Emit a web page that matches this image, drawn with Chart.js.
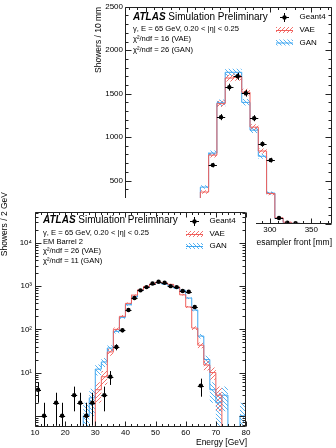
<!DOCTYPE html>
<html lang="en">
<head>
<meta charset="UTF-8">
<title>Geant4 vs VAE vs GAN</title>
<script src="https://cdn.jsdelivr.net/npm/chart.js"></script>
<style>
  html, body { margin: 0; padding: 0; background: #fff; }
  #wrap { position: relative; width: 336px; height: 448px; overflow: hidden; }
  #topBox { position: absolute; left: 0; top: 0; width: 336px; height: 260px; }
  #botBox { position: absolute; left: 0; top: 186px; width: 256px; height: 262px; }
</style>
</head>
<body>
<div id="wrap">
  <div id="topBox"><canvas id="topChart"></canvas></div>
  <div id="botBox"><canvas id="botChart"></canvas></div>
</div>
<script>
// top panel: 10 mm bins (edges), counts per bin
const topEdges = [206, 216, 226, 236, 246, 256, 266, 276, 286, 296, 306, 316, 326, 336, 346];
const topG4  = [null, 250, 678, 1230, 1575, 1700, 1505, 1218, 920, 735, 69, 15, 8, null];
const topVAE = [0, 368, 793, 1385, 1680, 1690, 1517, 1115, 840, 350, 70, 20, 8, 0];
const topGAN = [0, 425, 816, 1395, 1746, 1746, 1400, 1080, 780, 356, 65, 15, 8, 0];
const topXTicks = [150, 200, 250, 300, 350];
const topYTicks = [0, 500, 1000, 1500, 2000, 2500];

// bottom panel: 2 GeV energy bins from 10 to 80
const botEdges = [10, 12, 14, 16, 18, 20, 22, 24, 26, 28, 30, 32, 34, 36, 38, 40, 42, 44,
                  46, 48, 50, 52, 54, 56, 58, 60, 62, 64, 66, 68, 70, 72, 74, 76, 78, 80];
const botG4  = [4, 1, null, 2, 1, null, 3, 2, 1, 2, null, 3, 8, 39, 95, 280, 530, 800, 950, 1150,
                1260, 1200, 1000, 950, 770, 740, 330, 5, null, null, null, null, null, null, null];
const botVAE = [0, 0, 0, 0, 0, 0, 0, 0, 0, 0, 4, 8, 30, 100, 200, 400, 620, 820, 980, 1120,
                1230, 1180, 1100, 950, 630, 330, 107, 43, 15, 10, 3, 0, 0, 0, 0];
const botGAN = [0, 0, 0, 0, 0, 0, 0, 0, 1, 2.6, 12, 17.6, 37, 90, 190, 370, 560, 800, 950, 1100,
                1200, 1120, 1050, 900, 800, 530, 280, 70, 20, 4, 2, 3, 0, 0, 1];
const botXTicks = [10, 20, 30, 40, 50, 60, 70, 80];
const botYTicks = [10, 100, 1000, 10000];

const FONT = '"Liberation Sans", Arial, sans-serif';
const RED = '#f0605c', BLUE = '#3fa6f0';

function hatch(color, dir) {
  const c = document.createElement('canvas');
  c.width = 4; c.height = 4;
  const g = c.getContext('2d');
  g.strokeStyle = color; g.lineWidth = 1;
  g.beginPath();
  if (dir > 0) {
    g.moveTo(0, 4); g.lineTo(4, 0); g.moveTo(-1, 1); g.lineTo(1, -1); g.moveTo(3, 5); g.lineTo(5, 3);
  } else {
    g.moveTo(0, 0); g.lineTo(4, 4); g.moveTo(-1, 3); g.lineTo(1, 5); g.moveTo(3, -1); g.lineTo(5, 1);
  }
  g.stroke();
  return g.createPattern(c, 'repeat');
}
const redHatch = hatch('rgba(240,90,86,0.85)', 1);
const blueHatch = hatch('rgba(60,166,240,0.85)', -1);

// build step lines + poisson bands for one panel
function histDatasets(edges, g4, vae, gan, floor) {
  const clamp = v => (v > floor ? v : floor);
  const steps = (vals, f) => {
    const p = vals.map((v, i) => ({ x: edges[i], y: f(v) }));
    p.push({ x: edges[edges.length - 1], y: p[p.length - 1].y });
    return p;
  };
  const up = v => clamp(v + Math.sqrt(v));
  const lo = v => clamp(v - Math.sqrt(v));
  const base = { pointRadius: 0, stepped: true, borderWidth: 0, fill: false };
  const pts = [];
  g4.forEach((v, i) => { if (v !== null) pts.push({ x: (edges[i] + edges[i + 1]) / 2, y: v }); });
  return [
    { label: 'Geant4', data: pts, showLine: false, pointRadius: 2.2, pointBackgroundColor: '#000',
      borderColor: '#000', borderWidth: 0, order: 0, errBars: true, halfW: (edges[1] - edges[0]) / 2 },
    { ...base, data: steps(vae, up), order: 3 },
    { ...base, data: steps(vae, lo), fill: 1, backgroundColor: redHatch, order: 3 },
    { ...base, data: steps(gan, up), order: 3 },
    { ...base, data: steps(gan, lo), fill: 3, backgroundColor: blueHatch, order: 3 },
    { ...base, label: 'VAE', data: steps(vae, clamp), borderColor: RED, borderWidth: 1, order: 1 },
    { ...base, label: 'GAN', data: steps(gan, clamp), borderColor: BLUE, borderWidth: 1, order: 1 }
  ];
}

function txt(ctx, s, x, y, size, style, align) {
  ctx.font = (style || '') + ' ' + size + 'px ' + FONT;
  ctx.textAlign = align || 'left';
  ctx.textBaseline = 'middle';
  ctx.fillStyle = '#000';
  ctx.fillText(s, x, y);
  return ctx.measureText(s).width;
}

function atlasLabel(ctx, x, y) {
  const w = txt(ctx, 'ATLAS', x, y, 10, 'italic bold');
  txt(ctx, ' Simulation Preliminary', x + w, y, 10);
}

function legendBox(ctx, cx, ys) {
  // Geant4 marker
  ctx.strokeStyle = '#000'; ctx.lineWidth = 1;
  ctx.beginPath();
  ctx.moveTo(cx - 4, ys[0] + .5); ctx.lineTo(cx + 5, ys[0] + .5);
  ctx.moveTo(cx + .5, ys[0] - 4); ctx.lineTo(cx + .5, ys[0] + 5);
  ctx.stroke();
  ctx.fillStyle = '#000';
  ctx.beginPath(); ctx.arc(cx + .5, ys[0] + .5, 2.2, 0, Math.PI * 2); ctx.fill();
  [[redHatch, RED], [blueHatch, BLUE]].forEach(([pat, col], i) => {
    const y = ys[i + 1];
    ctx.fillStyle = pat;
    ctx.fillRect(cx - 8, y - 3, 17, 6);
    ctx.strokeStyle = col;
    ctx.beginPath(); ctx.moveTo(cx - 8, y + .5); ctx.lineTo(cx + 9, y + .5); ctx.stroke();
  });
  ['Geant4', 'VAE', 'GAN'].forEach((s, i) => txt(ctx, s, cx + 15.5, ys[i], 8));
}

function drawTicks(chart, o) {
  const { ctx, chartArea: a, scales: { x, y } } = chart;
  const L = Math.round(a.left) + .5, R = Math.round(a.right) - .5;
  const T = Math.round(a.top) + .5, B = Math.round(a.bottom) - .5;
  ctx.save();
  ctx.strokeStyle = '#222'; ctx.lineWidth = 1;
  ctx.beginPath();
  ctx.rect(L, T, R - L, B - T);
  for (let v = Math.ceil(x.min / o.xMinor) * o.xMinor; v <= x.max + 1e-9; v += o.xMinor) {
    const px = Math.round(x.getPixelForValue(v)) + .5;
    const len = Math.abs(v / o.xMajor - Math.round(v / o.xMajor)) < 1e-6 ? 5 : 2.5;
    ctx.moveTo(px, B); ctx.lineTo(px, B - len);
    ctx.moveTo(px, T); ctx.lineTo(px, T + len);
  }
  const yTick = (v, major) => {
    if (v < y.min || v > y.max) return;
    const py = Math.round(y.getPixelForValue(v)) + .5;
    const len = major ? 6 : 3;
    ctx.moveTo(L, py); ctx.lineTo(L + len, py);
    ctx.moveTo(R, py); ctx.lineTo(R - len, py);
  };
  if (o.log) {
    for (let d = -1; d <= 5; d++) for (let m = 1; m <= 9; m++) yTick(m * Math.pow(10, d), m === 1);
  } else {
    for (let v = 0; v <= y.max + 1e-9; v += o.yMinor) yTick(v, v % o.yMajor === 0);
  }
  ctx.stroke();
  ctx.restore();
}

function drawErrBars(chart) {
  const { ctx, chartArea: a, scales: { x, y } } = chart;
  ctx.save();
  ctx.beginPath(); ctx.rect(a.left, a.top, a.right - a.left, a.bottom - a.top); ctx.clip();
  ctx.strokeStyle = '#000'; ctx.lineWidth = 1;
  chart.data.datasets.forEach(ds => {
    if (!ds.errBars) return;
    ctx.beginPath();
    ds.data.forEach(p => {
      const e = Math.sqrt(p.y);
      const px = Math.round(x.getPixelForValue(p.x)) + .5;
      const py = Math.round(y.getPixelForValue(p.y)) + .5;
      const lo = p.y - e > 0 ? y.getPixelForValue(p.y - e) : a.bottom;
      ctx.moveTo(px, y.getPixelForValue(p.y + e)); ctx.lineTo(px, lo);
      ctx.moveTo(x.getPixelForValue(p.x - ds.halfW), py); ctx.lineTo(x.getPixelForValue(p.x + ds.halfW), py);
    });
    ctx.stroke();
  });
  ctx.restore();
}

function panelPlugin(o) {
  return {
    id: 'panel',
    beforeDraw(chart) {
      const c = chart.ctx;
      c.save(); c.fillStyle = '#fff'; c.fillRect(0, o.whiteTop, chart.width, chart.height); c.restore();
    },
    afterDatasetsDraw(chart) { drawErrBars(chart); },
    afterDraw(chart) {
      const ctx = chart.ctx;
      ctx.save();
      drawTicks(chart, o);
      o.texts(ctx, chart);
      ctx.restore();
    }
  };
}

function axisOpts(ticks, fit, cb, pad) {
  return {
    ticks: { font: { family: FONT, size: 8 }, color: '#000', padding: pad, autoSkip: false,
             maxRotation: 0, callback: cb },
    grid: { display: false, drawTicks: false },
    border: { display: false },
    afterBuildTicks: s => { s.ticks = ticks.map(v => ({ value: v })); },
    afterFit: fit
  };
}

const common = {
  responsive: true, maintainAspectRatio: false, animation: false, events: [],
  plugins: { legend: { display: false }, tooltip: { enabled: false } }
};

// ---- top panel ----
new Chart(document.getElementById('topChart'), {
  type: 'line',
  data: { datasets: histDatasets(topEdges, topG4, topVAE, topGAN, 0) },
  options: {
    ...common,
    layout: { padding: { left: 0, top: 6, right: 1, bottom: 16 } },
    scales: {
      x: { type: 'linear', min: 125, max: 375,
           ...axisOpts(topXTicks, s => { s.height = 20; }, v => v, 1) },
      y: { type: 'linear', min: 0, max: 2500,
           ...axisOpts(topYTicks, s => { s.width = 125; }, v => v, 2) }
    }
  },
  plugins: [panelPlugin({
    whiteTop: 0, xMinor: 10, xMajor: 50, yMinor: 100, yMajor: 500,
    texts(ctx, chart) {
      const a = chart.chartArea;
      atlasLabel(ctx, 133, 17);
      txt(ctx, 'γ, E = 65 GeV, 0.20 < |η| < 0.25', 133, 29, 7.6);
      txt(ctx, 'χ²/ndf = 16 (VAE)', 133, 39, 7.6);
      txt(ctx, 'χ²/ndf = 26 (GAN)', 133, 50, 7.6);
      legendBox(ctx, 284, [17, 30, 42.5]);
      txt(ctx, 'presampler front [mm]', a.right, 243, 8.5, '', 'right');
      ctx.save();
      ctx.translate(99, a.top);
      ctx.rotate(-Math.PI / 2);
      txt(ctx, 'Showers / 10 mm', 0, 0, 8.5, '', 'right');
      ctx.restore();
    }
  })]
});

// ---- bottom panel ----
const sup = { 1: '¹', 2: '²', 3: '³', 4: '⁴' };
new Chart(document.getElementById('botChart'), {
  type: 'line',
  data: { datasets: histDatasets(botEdges, botG4, botVAE, botGAN, 1e-3) },
  options: {
    ...common,
    layout: { padding: { left: 0, top: 26, right: 10, bottom: 0 } },
    scales: {
      x: { type: 'linear', min: 10, max: 80,
           ...axisOpts(botXTicks, s => { s.height = 21; }, v => v, 1) },
      y: { type: 'logarithmic', min: 0.55, max: 52000,
           ...axisOpts(botYTicks, s => { s.width = 35; }, v => '10' + sup[Math.round(Math.log10(v))], 3) }
    }
  },
  plugins: [panelPlugin({
    whiteTop: 12, xMinor: 2, xMajor: 10, log: true,
    texts(ctx, chart) {
      const a = chart.chartArea;
      atlasLabel(ctx, 43, 34.5);
      txt(ctx, 'γ, E = 65 GeV, 0.20 < |η| < 0.25', 43, 47, 7.6);
      txt(ctx, 'EM Barrel 2', 43, 56, 7.6);
      txt(ctx, 'χ²/ndf = 26 (VAE)', 43, 64.5, 7.6);
      txt(ctx, 'χ²/ndf = 11 (GAN)', 43, 75, 7.6);
      legendBox(ctx, 194, [35, 48, 60]);
      txt(ctx, 'Energy [GeV]', a.right + 1, 257, 8.5, '', 'right');
      ctx.save();
      ctx.translate(5, 6);
      ctx.rotate(-Math.PI / 2);
      txt(ctx, 'Showers / 2 GeV', 0, 0, 8.5, '', 'right');
      ctx.restore();
    }
  })]
});
</script>
</body>
</html>
